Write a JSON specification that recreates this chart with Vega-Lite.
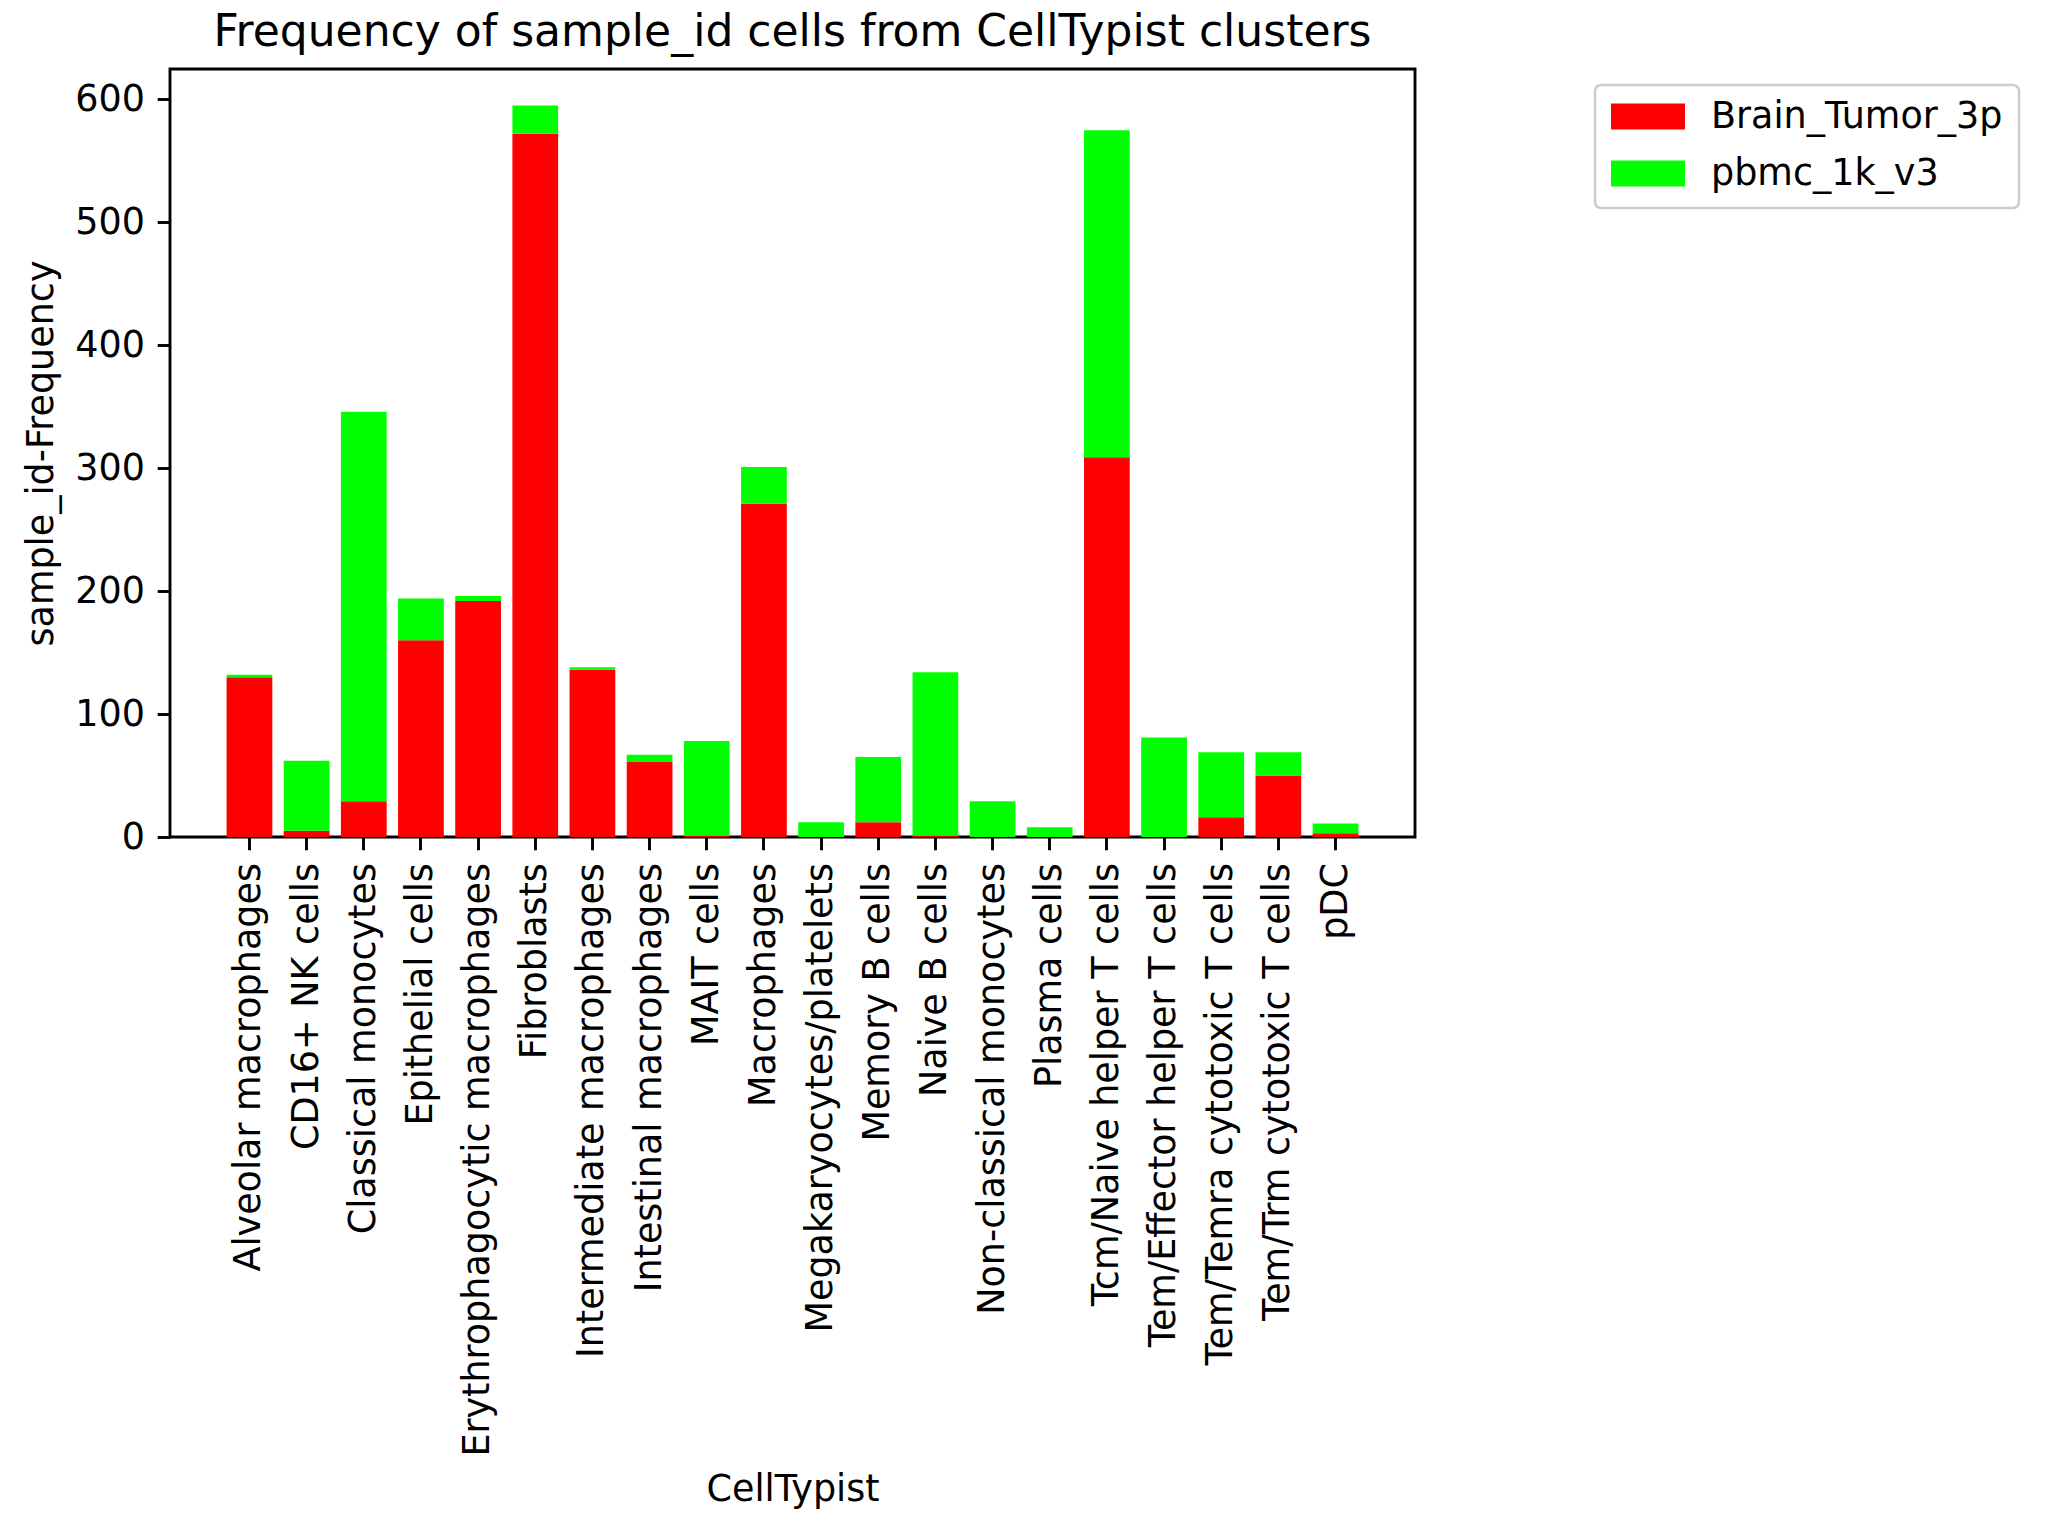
{
  "$schema": "https://vega.github.io/schema/vega-lite/v6.json",
  "autosize": {"type": "none"},
  "padding": {"left": 170, "top": 69, "right": 653, "bottom": 696},
  "width": 1245,
  "height": 768,
  "background": "white",
  "title": {
    "text": "Frequency of sample_id cells from CellTypist clusters",
    "font": "DejaVu Sans",
    "fontSize": 44,
    "fontWeight": "normal",
    "color": "black",
    "anchor": "middle",
    "offset": 14
  },
  "data": {
    "values": [
      {"celltype": "Alveolar macrophages", "sample": "Brain_Tumor_3p", "count": 130},
      {"celltype": "Alveolar macrophages", "sample": "pbmc_1k_v3", "count": 2},
      {"celltype": "CD16+ NK cells", "sample": "Brain_Tumor_3p", "count": 5},
      {"celltype": "CD16+ NK cells", "sample": "pbmc_1k_v3", "count": 57},
      {"celltype": "Classical monocytes", "sample": "Brain_Tumor_3p", "count": 29},
      {"celltype": "Classical monocytes", "sample": "pbmc_1k_v3", "count": 317},
      {"celltype": "Epithelial cells", "sample": "Brain_Tumor_3p", "count": 160},
      {"celltype": "Epithelial cells", "sample": "pbmc_1k_v3", "count": 34},
      {"celltype": "Erythrophagocytic macrophages", "sample": "Brain_Tumor_3p", "count": 192},
      {"celltype": "Erythrophagocytic macrophages", "sample": "pbmc_1k_v3", "count": 4},
      {"celltype": "Fibroblasts", "sample": "Brain_Tumor_3p", "count": 572},
      {"celltype": "Fibroblasts", "sample": "pbmc_1k_v3", "count": 23},
      {"celltype": "Intermediate macrophages", "sample": "Brain_Tumor_3p", "count": 136},
      {"celltype": "Intermediate macrophages", "sample": "pbmc_1k_v3", "count": 2},
      {"celltype": "Intestinal macrophages", "sample": "Brain_Tumor_3p", "count": 61},
      {"celltype": "Intestinal macrophages", "sample": "pbmc_1k_v3", "count": 6},
      {"celltype": "MAIT cells", "sample": "Brain_Tumor_3p", "count": 1},
      {"celltype": "MAIT cells", "sample": "pbmc_1k_v3", "count": 77},
      {"celltype": "Macrophages", "sample": "Brain_Tumor_3p", "count": 271},
      {"celltype": "Macrophages", "sample": "pbmc_1k_v3", "count": 30},
      {"celltype": "Megakaryocytes/platelets", "sample": "Brain_Tumor_3p", "count": 0},
      {"celltype": "Megakaryocytes/platelets", "sample": "pbmc_1k_v3", "count": 12},
      {"celltype": "Memory B cells", "sample": "Brain_Tumor_3p", "count": 12},
      {"celltype": "Memory B cells", "sample": "pbmc_1k_v3", "count": 53},
      {"celltype": "Naive B cells", "sample": "Brain_Tumor_3p", "count": 1},
      {"celltype": "Naive B cells", "sample": "pbmc_1k_v3", "count": 133},
      {"celltype": "Non-classical monocytes", "sample": "Brain_Tumor_3p", "count": 0},
      {"celltype": "Non-classical monocytes", "sample": "pbmc_1k_v3", "count": 29},
      {"celltype": "Plasma cells", "sample": "Brain_Tumor_3p", "count": 0},
      {"celltype": "Plasma cells", "sample": "pbmc_1k_v3", "count": 8},
      {"celltype": "Tcm/Naive helper T cells", "sample": "Brain_Tumor_3p", "count": 309},
      {"celltype": "Tcm/Naive helper T cells", "sample": "pbmc_1k_v3", "count": 266},
      {"celltype": "Tem/Effector helper T cells", "sample": "Brain_Tumor_3p", "count": 0},
      {"celltype": "Tem/Effector helper T cells", "sample": "pbmc_1k_v3", "count": 81},
      {"celltype": "Tem/Temra cytotoxic T cells", "sample": "Brain_Tumor_3p", "count": 16},
      {"celltype": "Tem/Temra cytotoxic T cells", "sample": "pbmc_1k_v3", "count": 53},
      {"celltype": "Tem/Trm cytotoxic T cells", "sample": "Brain_Tumor_3p", "count": 50},
      {"celltype": "Tem/Trm cytotoxic T cells", "sample": "pbmc_1k_v3", "count": 19},
      {"celltype": "pDC", "sample": "Brain_Tumor_3p", "count": 3},
      {"celltype": "pDC", "sample": "pbmc_1k_v3", "count": 8}
    ]
  },
  "mark": {"type": "bar"},
  "encoding": {
    "x": {
      "field": "celltype",
      "type": "nominal",
      "sort": null,
      "scale": {"paddingInner": 0.2, "paddingOuter": 0.99},
      "axis": {
        "title": "CellTypist",
        "labelAngle": -90,
        "labelAlign": "right",
        "labelBaseline": "middle",
        "labelLimit": 2000,
        "titleY": 663,
        "titleBaseline": "alphabetic"
      }
    },
    "y": {
      "field": "count",
      "type": "quantitative",
      "stack": "zero",
      "scale": {"domain": [0, 624.75], "nice": false},
      "axis": {
        "title": "sample_id-Frequency",
        "values": [0, 100, 200, 300, 400, 500, 600],
        "titlePadding": 14
      }
    },
    "order": {"field": "sample", "sort": "ascending"},
    "color": {
      "field": "sample",
      "type": "nominal",
      "scale": {"domain": ["Brain_Tumor_3p", "pbmc_1k_v3"], "range": ["#ff0000", "#00ff00"]},
      "legend": {
        "title": null,
        "orient": "none",
        "legendX": 1425,
        "legendY": 16,
        "symbolType": "M-1,-0.35L1,-0.35L1,0.35L-1,0.35Z",
        "symbolSize": 5476,
        "symbolStrokeWidth": 0,
        "symbolOpacity": 1,
        "clipHeight": 31,
        "rowPadding": 20,
        "padding": 16,
        "labelOffset": 26,
        "symbolOffset": 0,
        "labelFont": "DejaVu Sans",
        "labelFontSize": 36.5,
        "labelColor": "black",
        "labelLimit": 1000,
        "strokeColor": "#cccccc",
        "fillColor": "white",
        "cornerRadius": 6
      }
    }
  },
  "config": {
    "view": {"stroke": "black", "strokeWidth": 2.9},
    "legend": {"strokeWidth": 2.5},
    "axis": {
      "labelFont": "DejaVu Sans",
      "titleFont": "DejaVu Sans",
      "labelFontSize": 36.5,
      "titleFontSize": 36.5,
      "titleFontWeight": "normal",
      "labelColor": "black",
      "titleColor": "black",
      "tickColor": "black",
      "tickWidth": 2.9,
      "tickSize": 12.8,
      "labelPadding": 12.8,
      "domain": false,
      "grid": false
    }
  }
}
